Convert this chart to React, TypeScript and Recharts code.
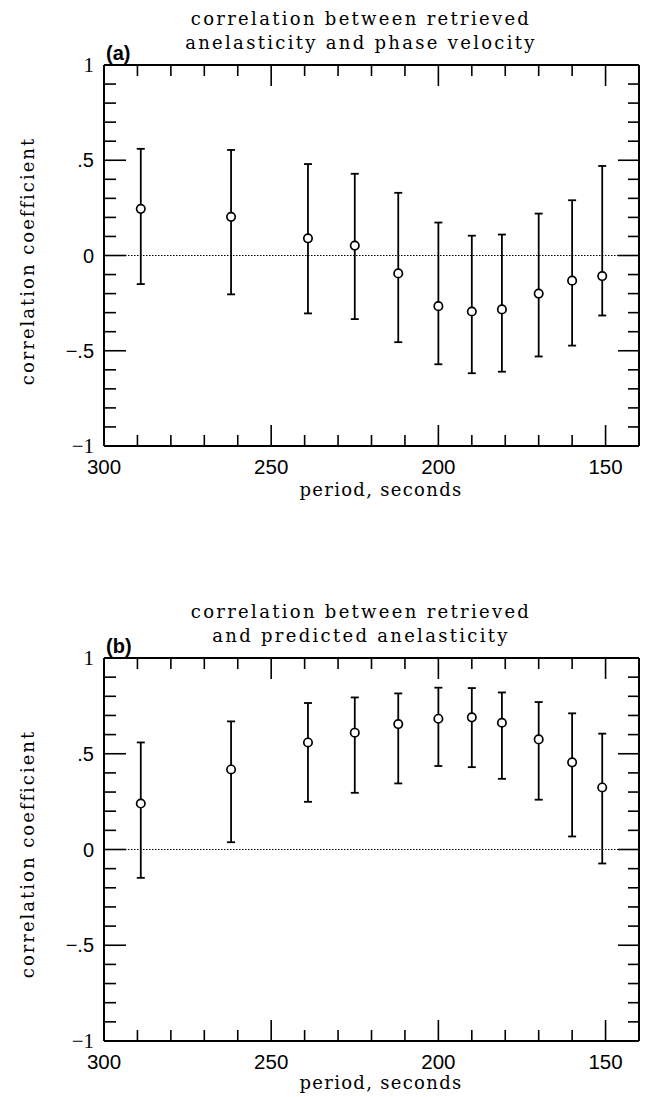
import React from 'react';
import { ScatterChart, Scatter, XAxis, YAxis, ErrorBar, ReferenceLine } from 'recharts';

// ---- data ----
const periods = [289, 262, 239, 225, 212, 200, 190, 181, 170, 160, 151];

// panel (a): retrieved anelasticity vs phase velocity
const corrA = [0.245, 0.203, 0.09, 0.052, -0.094, -0.266, -0.294, -0.283, -0.2, -0.132, -0.108];
const highA = [0.56, 0.554, 0.48, 0.429, 0.329, 0.173, 0.104, 0.11, 0.22, 0.29, 0.47];
const lowA = [-0.15, -0.204, -0.304, -0.334, -0.455, -0.571, -0.618, -0.61, -0.53, -0.473, -0.315];

// panel (b): retrieved vs predicted anelasticity
const corrB = [0.24, 0.418, 0.559, 0.61, 0.655, 0.683, 0.69, 0.662, 0.575, 0.455, 0.324];
const highB = [0.559, 0.669, 0.765, 0.794, 0.815, 0.845, 0.843, 0.82, 0.77, 0.711, 0.605];
const lowB = [-0.148, 0.038, 0.249, 0.296, 0.345, 0.436, 0.43, 0.369, 0.26, 0.068, -0.073];

const xTicks = [300, 290, 280, 270, 260, 250, 240, 230, 220, 210, 200, 190, 180, 170, 160, 150, 140];
const xLabelTicks = [300, 250, 200, 150];
const yTicks = [-1, -0.9, -0.8, -0.7, -0.6, -0.5, -0.4, -0.3, -0.2, -0.1, 0, 0.1, 0.2, 0.3, 0.4, 0.5, 0.6, 0.7, 0.8, 0.9, 1];
const yTickLabels = ['\u22121', '\u2212.5', '0', '.5', '1'];
const yLabelValues = [-1, -0.5, 0, 0.5, 1];

const titlesA = ['correlation between retrieved', 'anelasticity and phase velocity'];
const titlesB = ['correlation between retrieved', 'and predicted anelasticity'];
const xTitle = 'period, seconds';
const yTitle = 'correlation coefficient';

const build = (c: number[], hi: number[], lo: number[]) =>
  periods.map((p, i) => ({ period: p, r: c[i], err: [c[i] - lo[i], hi[i] - c[i]] }));

const dataA = build(corrA, highA, lowA);
const dataB = build(corrB, highB, lowB);

const X_DOMAIN: [number, number] = [140, 300];
const Y_DOMAIN: [number, number] = [-1, 1];
const MAJOR = 21;
const MINOR = 11;
const TICK_W = 1.6;
const SERIF = '"DejaVu Serif", "Liberation Serif", serif';
const SERIF2 = '"Liberation Serif", "DejaVu Serif", serif';
const SANS = '"Liberation Sans", Arial, sans-serif';

const isMajorY = (v: number) => Math.abs(v * 2 - Math.round(v * 2)) < 1e-6;
const isEdgeX = (v: number) => v === 300 || v === 140;
const isEdgeY = (v: number) => Math.abs(Math.abs(v) - 1) < 1e-6;

const BottomTick = (props: any) => {
  const { x, y, payload } = props;
  const v = payload.value;
  const major = v % 50 === 0;
  return (
    <g>
      {!isEdgeX(v) && (
        <line x1={x} y1={y} x2={x} y2={y - (major ? MAJOR : MINOR)} stroke="#000" strokeWidth={TICK_W} />
      )}
      {xLabelTicks.includes(v) && (
        <text x={x} y={y + 28} textAnchor="middle" fontFamily={SANS} fontSize={20.5} fill="#000">
          {v}
        </text>
      )}
    </g>
  );
};

const TopTick = (props: any) => {
  const { x, y, payload } = props;
  const v = payload.value;
  if (isEdgeX(v)) return <g />;
  const major = v % 50 === 0;
  return <line x1={x} y1={y} x2={x} y2={y + (major ? MAJOR : MINOR)} stroke="#000" strokeWidth={TICK_W} />;
};

const LeftTick = (props: any) => {
  const { x, y, payload } = props;
  const v = payload.value;
  const major = isMajorY(v);
  const idx = yLabelValues.findIndex((t) => Math.abs(t - v) < 1e-6);
  return (
    <g>
      {!isEdgeY(v) && (
        <line x1={x} y1={y} x2={x + (major ? MAJOR + 1 : MINOR + 1)} y2={y} stroke="#000" strokeWidth={TICK_W} />
      )}
      {idx >= 0 && (
        <text
          x={x - 10}
          y={y + 7}
          textAnchor="end"
          fontFamily={isEdgeY(v) ? SERIF2 : SANS}
          fontSize={isEdgeY(v) ? 21 : 20}
          fill="#000"
        >
          {yTickLabels[idx]}
        </text>
      )}
    </g>
  );
};

const RightTick = (props: any) => {
  const { x, y, payload } = props;
  const v = payload.value;
  if (isEdgeY(v)) return <g />;
  const major = isMajorY(v);
  return <line x1={x} y1={y} x2={x - (major ? MAJOR : MINOR)} y2={y} stroke="#000" strokeWidth={TICK_W} />;
};

const Marker = (props: any) => {
  const { cx, cy } = props;
  if (cx == null || cy == null) return <g />;
  return <circle cx={cx} cy={cy} r={4.2} fill="#fff" stroke="#000" strokeWidth={1.7} />;
};

const axisLine = { stroke: '#000', strokeWidth: 2 };

const Panel = ({ data, marginBottom }: { data: any[]; marginBottom: number }) => (
  <ScatterChart width={647} height={540} margin={{ top: 64, right: 7, bottom: marginBottom - 1, left: 103 }}>
    <XAxis
      xAxisId="bottom"
      dataKey="period"
      type="number"
      domain={X_DOMAIN}
      reversed
      ticks={xTicks}
      interval={0}
      orientation="bottom"
      height={1}
      tickSize={0}
      tickMargin={0}
      tickLine={false}
      axisLine={axisLine}
      tick={BottomTick}
    />
    <XAxis
      xAxisId="top"
      dataKey="period"
      type="number"
      domain={X_DOMAIN}
      reversed
      ticks={xTicks}
      interval={0}
      orientation="top"
      height={1}
      tickSize={0}
      tickMargin={0}
      tickLine={false}
      axisLine={axisLine}
      tick={TopTick}
    />
    <YAxis
      yAxisId="left"
      dataKey="r"
      type="number"
      domain={Y_DOMAIN}
      ticks={yTicks}
      interval={0}
      orientation="left"
      width={1}
      tickSize={0}
      tickMargin={0}
      tickLine={false}
      axisLine={axisLine}
      tick={LeftTick}
    />
    <YAxis
      yAxisId="right"
      dataKey="r"
      type="number"
      domain={Y_DOMAIN}
      ticks={yTicks}
      interval={0}
      orientation="right"
      width={1}
      tickSize={0}
      tickMargin={0}
      tickLine={false}
      axisLine={axisLine}
      tick={RightTick}
    />
    <ReferenceLine xAxisId="bottom" yAxisId="left" y={0} stroke="#000" strokeWidth={1.2} strokeDasharray="1.5 1.5" />
    <Scatter
      xAxisId="bottom"
      yAxisId="left"
      data={data}
      dataKey="r"
      shape={<Marker />}
      isAnimationActive={false}
    >
      <ErrorBar dataKey="err" direction="y" width={4} stroke="#000" strokeWidth={1.8} />
    </Scatter>
    <Scatter xAxisId="top" yAxisId="right" data={data} dataKey="r" shape={() => <g />} isAnimationActive={false} />
  </ScatterChart>
);

const Titles = ({ top, lines, tag }: { top: number; lines: string[]; tag: string }) => (
  <g>
    <text x={361} y={top - 40} textAnchor="middle" fontFamily={SERIF} fontSize={18} letterSpacing={2.3} fill="#000">
      {lines[0]}
    </text>
    <text x={361} y={top - 16} textAnchor="middle" fontFamily={SERIF} fontSize={18} letterSpacing={2.3} fill="#000">
      {lines[1]}
    </text>
    <text x={106} y={top - 5} fontFamily={SANS} fontWeight="bold" fontSize={20} fill="#000">
      {tag}
    </text>
    <text x={381} y={top + 431} textAnchor="middle" fontFamily={SERIF} fontSize={18} letterSpacing={1.3} fill="#000">
      {xTitle}
    </text>
    <text
      x={0}
      y={0}
      transform={`translate(34 ${top + 196}) rotate(-90)`}
      textAnchor="middle"
      fontFamily={SERIF}
      fontSize={18}
      letterSpacing={2}
      fill="#000"
    >
      {yTitle}
    </text>
  </g>
);

export default function App() {
  return (
    <div style={{ position: 'absolute', left: 0, top: 0, width: 647, height: 1097, background: '#fff' }}>
      <div style={{ position: 'absolute', left: 0, top: 0 }}>
        <Panel data={dataA} marginBottom={94} />
      </div>
      <div style={{ position: 'absolute', left: 0, top: 593 }}>
        <Panel data={dataB} marginBottom={92} />
      </div>
      <svg
        width={647}
        height={1097}
        style={{ position: 'absolute', left: 0, top: 0, pointerEvents: 'none' }}
      >
        <Titles top={65} lines={titlesA} tag="(a)" />
        <Titles top={658} lines={titlesB} tag="(b)" />
      </svg>
    </div>
  );
}
